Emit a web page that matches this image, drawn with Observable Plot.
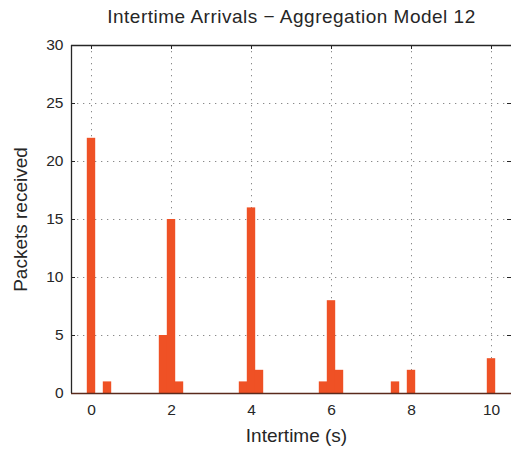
<!DOCTYPE html>
<html>
<head>
<meta charset="utf-8">
<script src="https://cdn.jsdelivr.net/npm/d3@7"></script>
<script src="https://cdn.jsdelivr.net/npm/@observablehq/plot@0.6"></script>
<style>
  html, body { margin: 0; padding: 0; background: #fff; }
  #chart svg { display: block; }
</style>
</head>
<body>
<div id="chart"></div>
<script>
const binCenters = [0, 0.4, 1.8, 2.0, 2.2, 3.8, 4.0, 4.2, 5.8, 6.0, 6.2, 7.6, 8.0, 10.0];
const counts     = [22, 1, 5, 15, 1, 1, 16, 2, 1, 8, 2, 1, 2, 3];
const xTicks = [0, 2, 4, 6, 8, 10];
const yTicks = [0, 5, 10, 15, 20, 25, 30];
const xDomain = [-0.5, 10.5];
const yDomain = [0, 30];
const binWidth = 0.21;
const title = "Intertime Arrivals \u2212 Aggregation Model 12";
const xLabel = "Intertime (s)";
const yLabel = "Packets received";

const data = binCenters.map((c, i) => ({center: c, count: counts[i]}));

const W = 511, H = 449, mL = 71, mR = 0, mT = 45, mB = 56;
const fw = W - mL - mR, fh = H - mT - mB;
const tickLen = 4;
const axisColor = "#262626";

const chart = Plot.plot({
  width: W, height: H,
  marginLeft: mL, marginRight: mR, marginTop: mT, marginBottom: mB,
  style: {fontFamily: "'Liberation Sans', Arial, Helvetica, sans-serif", fontSize: "15.5px", color: axisColor, background: "#fff"},
  x: {domain: xDomain, ticks: xTicks, tickSize: 0, tickPadding: 10, label: null},
  y: {domain: yDomain, ticks: yTicks, tickSize: 0, tickPadding: 8, label: null},
  marks: [
    Plot.gridX(xTicks, {stroke: "#8a8a8a", strokeOpacity: 1, strokeDasharray: "1.3,4.7"}),
    Plot.gridY(yTicks, {stroke: "#8a8a8a", strokeOpacity: 1, strokeDasharray: "1.3,4.7"}),
    // inward ticks
    Plot.tickY(yTicks, {y: d => d, stroke: axisColor, insetRight: fw - tickLen}),
    Plot.tickY(yTicks, {y: d => d, stroke: axisColor, insetLeft: fw - tickLen}),
    Plot.tickX(xTicks, {x: d => d, stroke: axisColor, insetBottom: fh - tickLen}),
    Plot.rect(data, {x1: d => d.center - binWidth / 2, x2: d => d.center + binWidth / 2, y1: 0, y2: "count", fill: "#EF5125"}),
    Plot.ruleY([yDomain[0]], {stroke: "#5a2a1c", strokeWidth: 1.5}),
    Plot.ruleX([xDomain[0]], {stroke: axisColor, strokeWidth: 1.3}),
    Plot.ruleY([yDomain[1]], {stroke: axisColor, strokeWidth: 1.3}),
    Plot.text([title], {frameAnchor: "top", lineAnchor: "middle", textAnchor: "middle", dy: -29, fontSize: 19, letterSpacing: "0.5px", fill: axisColor, style: "letter-spacing:0.5px"}),
    Plot.text([xLabel], {frameAnchor: "bottom", lineAnchor: "middle", textAnchor: "middle", dy: 42, dx: 5, fontSize: 19, fill: axisColor}),
    Plot.text([yLabel], {frameAnchor: "left", lineAnchor: "middle", textAnchor: "middle", dx: -51, rotate: -90, fontSize: 19, fill: axisColor})
  ]
});
// apply letter-spacing to title
d3.select(chart).selectAll("text").filter(function() { return this.textContent === title; }).attr("letter-spacing", "0.5px");
document.getElementById("chart").appendChild(chart);
</script>
</body>
</html>
